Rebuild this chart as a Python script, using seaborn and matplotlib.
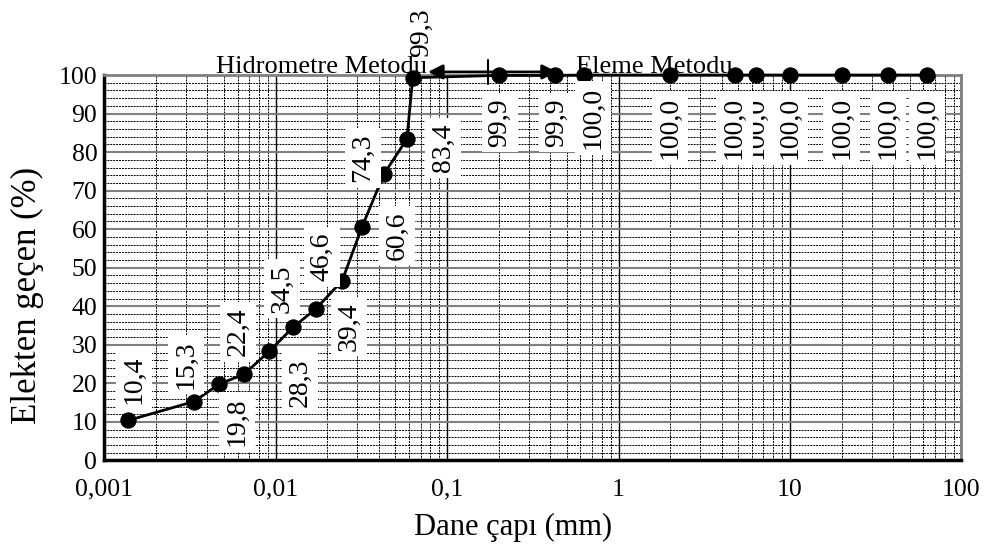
import matplotlib
matplotlib.use("Agg")
import matplotlib.pyplot as plt
import matplotlib.ticker as mticker
import matplotlib.transforms as mtrans
import seaborn as sns

# --- DATA ---
# hydrometer part of the grading curve
hydro_size = [0.00138, 0.00334, 0.00468, 0.00655, 0.00916, 0.0126, 0.0172,
              0.0244, 0.0319, 0.0428, 0.0583, 0.063]
hydro_pass = [10.4, 15.3, 19.8, 22.4, 28.3, 34.5, 39.4, 46.6, 60.6, 74.3, 83.4, 99.3]

# sieve part of the grading curve
sieve_size = [0.2, 0.425, 0.63, 2, 4.75, 6.3, 10, 20, 37.5, 63]
sieve_pass = [99.9, 99.9, 100.0, 100.0, 100.0, 100.0, 100.0, 100.0, 100.0, 100.0]

x_ticks = [0.001, 0.01, 0.1, 1, 10, 100]
x_tick_labels = ["0,001", "0,01", "0,1", "1", "10", "100"]

# label offsets from each point (pixels, right / up)
label_dx = [6, -8, 18, -6, 31, -11, 33, -20, 35, -21, 36, 9,
            1, 2, 9, 0, 0, 0, 0, 0, 0, 0]
label_dy = [41, 37, -38, 42, -31, 39, -18, 24, -9, 16, -9, 45,
            -47, -47, -43, -53, -53, -53, -53, -53, -53, -53]

# method arrows (mm) along the top of the chart
arrow_left, arrow_mid, arrow_right = 0.0773, 0.1726, 0.4375

size = hydro_size + sieve_size
passing = hydro_pass + sieve_pass

# --- PLOT ---
sns.set_style("white")
plt.rcParams["font.family"] = ["Liberation Serif", "DejaVu Serif"]
plt.rcParams["text.color"] = "black"
plt.rcParams["axes.labelcolor"] = "black"
plt.rcParams["xtick.color"] = "black"
plt.rcParams["ytick.color"] = "black"

fig = plt.figure(figsize=(9.92, 5.48), dpi=100)
ax = fig.add_axes([0.1051, 0.1597, 0.9691 - 0.1051, 0.8631 - 0.1597])

sns.lineplot(x=size, y=passing, ax=ax, color="black", linewidth=2.0,
             marker="o", markersize=11, markeredgecolor="black",
             clip_on=False, zorder=3, estimator=None)

ax.set_xscale("log")
ax.set_xlim(0.001, 100)
ax.set_ylim(0, 100)

ax.xaxis.set_major_locator(mticker.FixedLocator(x_ticks))
ax.xaxis.set_major_formatter(mticker.FixedFormatter(x_tick_labels))
ax.xaxis.set_minor_locator(mticker.LogLocator(base=10, subs=range(2, 10), numticks=20))
ax.xaxis.set_minor_formatter(mticker.NullFormatter())
ax.yaxis.set_major_locator(mticker.MultipleLocator(10))
ax.yaxis.set_minor_locator(mticker.MultipleLocator(2))

ax.set_axisbelow(True)
ax.grid(which="major", axis="y", color="#808080", linewidth=1.5, linestyle="-")
ax.grid(which="major", axis="x", color="black", linewidth=1.0, linestyle="-")
ax.grid(which="minor", color="black", linewidth=0.7, linestyle=(0, (2, 1)))

ax.tick_params(axis="x", which="major", direction="inout", length=18, width=2,
               labelsize=18.5, pad=4, colors="black")
ax.tick_params(axis="x", which="minor", direction="in", length=7, width=1.5)
ax.tick_params(axis="y", which="major", direction="in", length=7, width=1.5,
               labelsize=18.5, pad=5, colors="black")
ax.tick_params(axis="y", which="minor", length=0)

for side in ["left", "bottom"]:
    ax.spines[side].set_color("black")
    ax.spines[side].set_linewidth(2.5)
for side in ["top", "right"]:
    ax.spines[side].set_color("#808080")
    ax.spines[side].set_linewidth(2)
    ax.spines[side].set_visible(True)

# value labels
for i, (x, y) in enumerate(zip(size, passing)):
    txt = f"{y:.1f}".replace(".", ",")
    z = 4 if i == 17 else 5
    box = None if i == 11 else dict(boxstyle="square,pad=0.2", fc="white", ec="none")
    ax.annotate(txt, xy=(x, y), xytext=(label_dx[i], label_dy[i]),
                textcoords="offset pixels", rotation=90, ha="center", va="center",
                fontsize=20, color="black", bbox=box, zorder=z,
                annotation_clip=False)

# method arrows and titles
top = mtrans.blended_transform_factory(ax.transData, ax.transAxes)
arrow_kw = dict(arrowstyle="-|>", color="black", lw=2, mutation_scale=22,
                shrinkA=0, shrinkB=0)
ax.annotate("", xy=(arrow_left, 1.008), xytext=(arrow_mid, 1.008),
            xycoords=top, textcoords=top, arrowprops=arrow_kw,
            annotation_clip=False, zorder=6)
ax.annotate("", xy=(arrow_right, 1.008), xytext=(arrow_mid, 1.008),
            xycoords=top, textcoords=top, arrowprops=arrow_kw,
            annotation_clip=False, zorder=6)
ax.plot([arrow_mid, arrow_mid], [0.976, 1.04], transform=top, color="black",
        lw=1.5, clip_on=False, zorder=6)

ax.text(0.01845, 1.005, "Hidrometre Metodu", transform=top, ha="center",
        va="baseline", fontsize=19, color="black", zorder=7)
ax.text(1.611, 1.005, "Eleme Metodu", transform=top, ha="center",
        va="baseline", fontsize=19, color="black", zorder=7)

fig.text(27 / 992, 1 - 295 / 548, "Elekten geçen (%)", rotation=90,
         ha="center", va="center", fontsize=25, color="black")
fig.text(513 / 992, 1 - 527 / 548, "Dane çapı (mm)", ha="center",
         va="center", fontsize=22, color="black")

fig.savefig("out.png", dpi=100, facecolor="white")
